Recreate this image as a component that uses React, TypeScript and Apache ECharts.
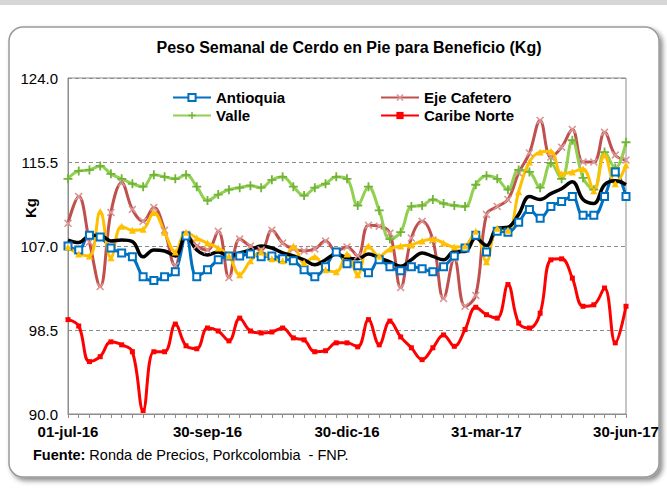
import React, { useEffect, useRef } from "react";
import * as echarts from "echarts";

const weeks = [
  "01-jul-16", "08-jul-16", "15-jul-16", "22-jul-16", "29-jul-16",
  "05-ago-16", "12-ago-16", "19-ago-16", "26-ago-16",
  "02-sep-16", "09-sep-16", "16-sep-16", "23-sep-16", "30-sep-16",
  "07-oct-16", "14-oct-16", "21-oct-16", "28-oct-16",
  "04-nov-16", "11-nov-16", "18-nov-16", "25-nov-16",
  "02-dic-16", "09-dic-16", "16-dic-16", "23-dic-16", "30-dic-16",
  "06-ene-17", "13-ene-17", "20-ene-17", "27-ene-17",
  "03-feb-17", "10-feb-17", "17-feb-17", "24-feb-17",
  "03-mar-17", "10-mar-17", "17-mar-17", "24-mar-17", "31-mar-17",
  "07-abr-17", "14-abr-17", "21-abr-17", "28-abr-17",
  "05-may-17", "12-may-17", "19-may-17", "26-may-17",
  "02-jun-17", "09-jun-17", "16-jun-17", "23-jun-17", "30-jun-17",
];
const tickLabels = ["01-jul-16", "30-sep-16", "30-dic-16", "31-mar-17", "30-jun-17"];

const antioquia = [107.0, 106.6, 108.1, 107.9, 106.8, 106.3, 105.9, 103.9, 103.5, 103.9, 104.4, 108.0, 103.9, 104.6, 105.6, 106.0, 106.0, 106.2, 105.9, 106.0, 105.7, 105.5, 104.6, 103.9, 104.9, 106.4, 105.2, 105.0, 104.3, 105.6, 104.9, 104.5, 104.9, 104.7, 104.4, 104.9, 106.0, 106.8, 108.1, 106.4, 108.5, 108.4, 109.4, 110.7, 109.8, 111.0, 111.5, 112.0, 110.1, 110.1, 112.0, 114.5, 112.0];
const ejeCafetero = [109.3, 112.0, 107.4, 102.9, 110.4, 113.4, 110.7, 109.5, 110.9, 108.6, 105.0, 108.2, 107.0, 106.6, 108.5, 103.8, 107.7, 107.0, 106.6, 108.6, 107.3, 106.7, 106.5, 106.7, 107.5, 106.5, 106.9, 106.0, 109.1, 109.0, 108.3, 102.8, 107.8, 109.5, 107.6, 101.7, 105.7, 100.9, 102.0, 110.2, 111.0, 111.7, 114.4, 116.4, 119.7, 116.0, 117.0, 118.8, 115.5, 115.5, 118.5, 116.2, 115.7];
const valle = [113.8, 114.6, 114.7, 115.1, 114.3, 113.8, 113.3, 113.0, 114.2, 114.0, 113.8, 114.2, 113.0, 111.6, 112.2, 112.7, 112.9, 113.1, 112.9, 113.7, 114.0, 113.0, 112.1, 112.9, 113.3, 114.0, 113.8, 111.1, 113.0, 110.6, 107.7, 108.4, 111.0, 111.1, 111.7, 111.3, 111.1, 111.0, 113.2, 114.1, 113.8, 112.7, 114.7, 114.5, 112.9, 115.4, 113.8, 117.7, 113.9, 112.7, 116.5, 114.9, 117.5];
const caribeNorte = [99.55, 98.9, 95.3, 95.8, 97.3, 97.0, 96.3, 90.35, 96.3, 96.3, 99.1, 96.9, 96.6, 98.7, 98.4, 97.4, 99.7, 98.4, 98.2, 98.3, 98.7, 97.7, 97.5, 96.3, 96.4, 97.2, 97.2, 96.8, 99.55, 97.0, 99.4, 97.8, 96.7, 95.5, 96.7, 98.0, 96.85, 98.55, 100.8, 100.05, 99.7, 103.1, 99.2, 98.7, 100.2, 105.6, 105.7, 103.75, 100.9, 101.05, 102.75, 97.2, 100.9];
const centro = [106.9, 106.2, 106.0, 110.5, 105.8, 109.0, 108.6, 108.7, 110.4, 108.4, 106.4, 108.4, 107.8, 107.3, 106.8, 106.0, 104.1, 105.5, 106.4, 105.7, 105.5, 107.0, 105.3, 105.9, 104.6, 104.4, 106.2, 104.1, 107.0, 106.0, 106.7, 107.0, 107.1, 107.5, 107.7, 107.3, 106.9, 107.0, 108.5, 105.4, 108.8, 108.6, 112.5, 115.5, 116.5, 116.6, 114.3, 114.5, 114.8, 112.6, 116.2, 113.3, 115.2];
const nacional = [107.6, 107.35, 108.05, 108.1, 107.5, 107.6, 107.45, 105.9, 106.6, 106.5, 106.0, 108.1, 106.6, 106.1, 106.4, 106.0, 106.3, 106.6, 107.0, 106.8, 106.3, 106.0, 105.6, 105.1, 105.6, 106.2, 105.8, 105.7, 106.2, 105.8, 105.4, 104.95, 105.6, 106.3, 105.95, 105.6, 106.45, 106.45, 107.8, 107.05, 108.8, 108.9, 110.2, 112.0, 111.7, 112.3, 112.8, 113.5, 111.7, 111.3, 113.2, 113.6, 113.2];

const Y_MIN = 90;
const Y_MAX = 124;
const Y_STEP = 8.5;

const FONT = "'Liberation Sans', Arial, sans-serif";
const PLUS = "path://M4,0H6V4H10V6H6V10H4V6H0V4H4Z";
const CROSS = "path://M1.4,0L5,3.6L8.6,0L10,1.4L6.4,5L10,8.6L8.6,10L5,6.4L1.4,10L0,8.6L3.6,5L0,1.4Z";

export default function App() {
  const ref = useRef<HTMLDivElement>(null);
  useEffect(() => {
    if (!ref.current) return;
    const chart = echarts.init(ref.current, undefined, { renderer: "svg" });
    const lineBase = {
      type: "line" as const,
      smooth: 0.4,
      yAxisIndex: 0,
      showAllSymbol: true,
      emphasis: { disabled: true },
    };
    chart.setOption({
      animation: false,
      backgroundColor: "#ffffff",
      textStyle: { fontFamily: FONT },
      graphic: [
        { type: "rect", z: -10, shape: { x: 0, y: 0, width: 667, height: 5 }, style: { fill: "#d6d6d6" } },
        {
          type: "rect",
          z: -10,
          shape: { x: 9, y: 27, width: 650, height: 450, r: 14 },
          style: {
            fill: "#ffffff",
            stroke: "#9a9a9a",
            lineWidth: 1.5,
            shadowBlur: 5,
            shadowOffsetX: 3,
            shadowOffsetY: 3,
            shadowColor: "rgba(0,0,0,0.45)",
          },
        },
        {
          type: "text",
          z: 100,
          x: 349,
          y: 47,
          style: {
            text: "Peso Semanal de Cerdo en Pie para Beneficio (Kg)",
            font: `bold 16px ${FONT}`,
            fill: "#000",
            textAlign: "center",
            textVerticalAlign: "middle",
            align: "center",
            verticalAlign: "middle",
          },
        },
        {
          type: "text",
          z: 100,
          x: 30,
          y: 208,
          rotation: Math.PI / 2,
          style: {
            text: "Kg",
            font: `bold 15px ${FONT}`,
            fill: "#000",
            textAlign: "center",
            textVerticalAlign: "middle",
            align: "center",
            verticalAlign: "middle",
          },
        },
        {
          type: "text",
          z: 100,
          x: 33,
          y: 455,
          style: {
            text: "{b|Fuente:} Ronda de Precios, Porkcolombia  - FNP.",
            font: `14.5px ${FONT}`,
            fill: "#000",
            textVerticalAlign: "middle",
            verticalAlign: "middle",
            rich: { b: { fontWeight: "bold", fontSize: 14.5, fontFamily: FONT } },
          },
        },
      ],
      legend: [
        {
          data: ["Antioquia", "Valle"],
          orient: "vertical",
          left: 172,
          top: 90,
          padding: 0,
          itemWidth: 38,
          itemHeight: 9,
          itemGap: 3,
          selectedMode: false,
          textStyle: { fontSize: 15, fontWeight: "bold", color: "#000", fontFamily: FONT },
        },
        {
          data: ["Eje Cafetero", "Caribe Norte"],
          orient: "vertical",
          left: 380,
          top: 90,
          padding: 0,
          itemWidth: 38,
          itemHeight: 9,
          itemGap: 3,
          selectedMode: false,
          textStyle: { fontSize: 15, fontWeight: "bold", color: "#000", fontFamily: FONT },
        },
      ],
      grid: {
        left: 68,
        right: 41,
        top: 78,
        bottom: 79,
        show: true,
        borderColor: "#8c8c8c",
        borderWidth: 1,
        backgroundColor: "transparent",
      },
      xAxis: {
        type: "category",
        data: weeks,
        boundaryGap: false,
        axisLine: { lineStyle: { color: "#8c8c8c", width: 1 } },
        axisTick: { show: true, interval: 0, length: 4, inside: false, lineStyle: { color: "#8c8c8c" } },
        axisLabel: {
          interval: (_i: number, v: string) => tickLabels.includes(v),
          margin: 10,
          fontSize: 15,
          fontWeight: "bold",
          color: "#000",
          fontFamily: FONT,
        },
        splitLine: { show: false },
      },
      yAxis: [
        {
          type: "value",
          min: Y_MIN,
          max: Y_MAX,
          axisLine: { show: true, lineStyle: { color: "#8c8c8c" } },
          axisTick: { show: false },
          axisLabel: { show: false },
          splitLine: { show: false },
        },
        {
          type: "value",
          position: "left",
          min: 0,
          max: Y_MAX - Y_MIN,
          interval: Y_STEP,
          axisLine: { show: false },
          axisTick: { show: false },
          axisLabel: {
            formatter: (v: number) => (v + Y_MIN).toFixed(1),
            margin: 10,
            fontSize: 15,
            color: "#000",
            fontFamily: FONT,
          },
          splitLine: { show: true, lineStyle: { color: "#8c8c8c", type: [4, 3], width: 1 } },
        },
      ],
      series: [
        {
          ...lineBase,
          name: "Eje Cafetero",
          data: ejeCafetero,
          symbol: CROSS,
          symbolSize: 8,
          lineStyle: { color: "#C0504D", width: 3 },
          itemStyle: { color: "#D99694" },
        },
        {
          ...lineBase,
          name: "Valle",
          data: valle,
          symbol: PLUS,
          symbolSize: 9,
          lineStyle: { color: "#92D050", width: 3 },
          itemStyle: { color: "#72B33A" },
        },
        {
          ...lineBase,
          name: "Antioquia",
          data: antioquia,
          symbol: "emptyRect",
          symbolSize: 7,
          lineStyle: { color: "#0070C0", width: 3 },
          itemStyle: { color: "#0070C0", borderWidth: 1.5 },
        },
        {
          ...lineBase,
          name: "Caribe Norte",
          data: caribeNorte,
          symbol: "rect",
          symbolSize: 5,
          lineStyle: { color: "#FF0000", width: 3 },
          itemStyle: { color: "#FF0000" },
        },
        {
          ...lineBase,
          name: "Centro",
          data: centro,
          symbol: "triangle",
          symbolSize: 7,
          lineStyle: { color: "#FFC000", width: 3 },
          itemStyle: { color: "#FFC000" },
        },
        {
          ...lineBase,
          name: "Nacional",
          data: nacional,
          showSymbol: false,
          symbol: "none",
          lineStyle: { color: "#000000", width: 3.5 },
          itemStyle: { color: "#000000" },
        },
      ],
    });
    return () => chart.dispose();
  }, []);
  return (
    <div
      ref={ref}
      style={{ position: "absolute", left: 0, top: 0, width: 667, height: 493 }}
    />
  );
}
